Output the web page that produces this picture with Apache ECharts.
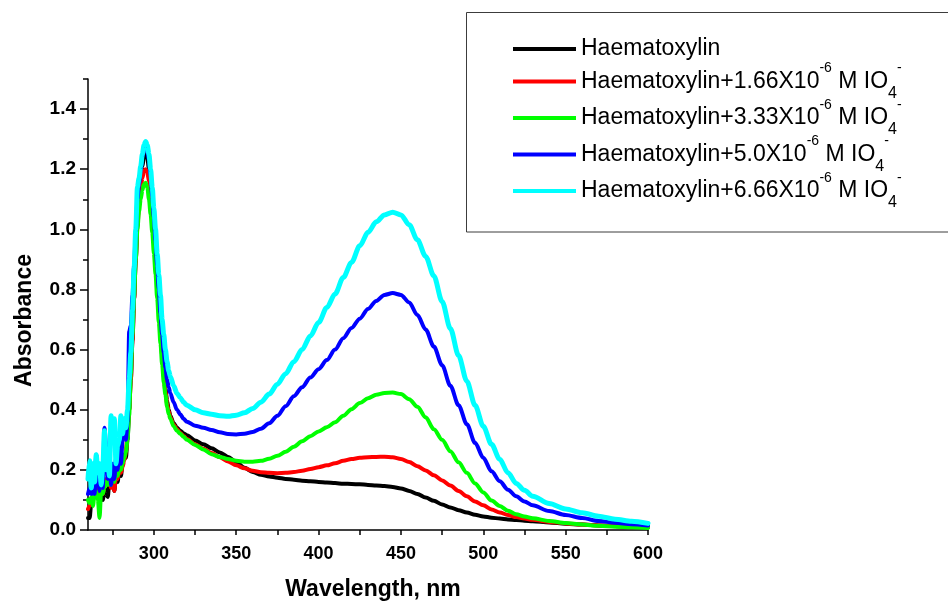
<!DOCTYPE html>
<html>
<head>
<meta charset="utf-8">
<script src="https://cdn.jsdelivr.net/npm/echarts@6/dist/echarts.min.js"></script>
<style>
html,body{margin:0;padding:0;background:#fff;}
#chart{width:948px;height:606px;}
</style>
</head>
<body>
<div id="chart"></div>
<script>
// Wavelength grid (nm)
const wavelength = [
  260,261,262,263,264,265,266,267,268,269,270,271,272,273,274,275,276,277,278,279,280,281,282,283,284,285,
  286,287,288,289,290,291,292,293,294,295,296,297,298,299,300,301,302,303,304,305,306,307,308,309,310,
  312,314,316,318,320,
  325,330,335,340,345,350,355,360,365,370,375,380,385,390,395,400,405,410,415,420,425,430,435,440,445,450,455,460,465,470,475,480,485,490,495,500,505,510,515,520,525,530,
  540,550,560,570,580,590,600
];

const seriesNames = [
  'Haematoxylin',
  'Haematoxylin+1.66X10-6 M IO4-',
  'Haematoxylin+3.33X10-6 M IO4-',
  'Haematoxylin+5.0X10-6 M IO4-',
  'Haematoxylin+6.66X10-6 M IO4-'
];
const seriesColors = ['#000000', '#ff0000', '#00ff00', '#0000ff', '#00ffff'];

const absBlack = [
  0.04,0.04,0.09,0.10,0.12,0.13,0.11,0.14,0.12,0.10,0.14,0.12,0.11,0.16,0.15,0.17,0.13,0.18,0.16,0.20,0.18,0.22,0.25,0.24,0.30,0.40,
  0.50,0.63,0.77,0.90,1.02,1.10,1.16,1.21,1.24,1.25,1.24,1.20,1.14,1.07,0.99,0.91,0.83,0.75,0.67,0.59,0.52,0.47,0.43,0.40,0.38,
  0.355,0.34,0.33,0.322,0.315,
  0.298,0.285,0.272,0.258,0.243,0.226,0.207,0.193,0.184,0.178,0.174,0.170,0.167,0.164,0.162,0.160,0.158,0.156,0.154,0.153,0.152,0.150,0.148,0.146,0.143,0.138,0.130,0.120,0.108,0.097,0.085,0.075,0.066,0.058,0.051,0.045,0.041,0.038,0.035,0.033,0.031,0.029,
  0.025,0.021,0.018,0.015,0.013,0.011,0.009
];
const absRed = [
  0.07,0.08,0.09,0.10,0.13,0.12,0.14,0.11,0.14,0.12,0.16,0.17,0.16,0.18,0.14,0.15,0.13,0.18,0.17,0.20,0.19,0.21,0.23,0.26,0.32,0.40,
  0.50,0.63,0.77,0.90,1.01,1.08,1.13,1.17,1.195,1.20,1.19,1.16,1.11,1.05,0.98,0.90,0.82,0.74,0.66,0.58,0.51,0.46,0.42,0.395,0.375,
  0.35,0.335,0.323,0.313,0.303,
  0.285,0.270,0.256,0.242,0.228,0.215,0.205,0.197,0.192,0.190,0.189,0.190,0.193,0.197,0.203,0.209,0.215,0.222,0.230,0.236,0.240,0.242,0.243,0.244,0.242,0.236,0.226,0.212,0.198,0.182,0.165,0.148,0.130,0.112,0.095,0.082,0.068,0.058,0.050,0.043,0.038,0.034,
  0.027,0.022,0.018,0.015,0.013,0.011,0.010
];
const absGreen = [
  0.10,0.09,0.11,0.08,0.12,0.13,0.10,0.04,0.13,0.12,0.14,0.16,0.15,0.19,0.15,0.18,0.16,0.19,0.18,0.20,0.20,0.22,0.24,0.26,0.30,0.38,
  0.52,0.65,0.78,0.90,1.00,1.06,1.10,1.13,1.15,1.155,1.14,1.10,1.05,0.99,0.92,0.85,0.77,0.69,0.62,0.55,0.49,0.45,0.41,0.385,0.37,
  0.345,0.33,0.32,0.31,0.30,
  0.283,0.268,0.252,0.243,0.236,0.230,0.227,0.227,0.230,0.237,0.247,0.260,0.277,0.295,0.312,0.328,0.342,0.358,0.380,0.402,0.422,0.438,0.450,0.456,0.457,0.452,0.435,0.410,0.375,0.335,0.300,0.262,0.225,0.190,0.155,0.125,0.098,0.080,0.064,0.052,0.045,0.039,
  0.030,0.023,0.018,0.014,0.011,0.009,0.007
];
const absBlue = [
  0.12,0.14,0.12,0.13,0.12,0.25,0.20,0.13,0.22,0.14,0.34,0.28,0.17,0.25,0.15,0.22,0.17,0.24,0.20,0.28,0.22,0.30,0.35,0.30,0.36,0.66,
  0.68,0.78,0.88,0.99,1.10,1.15,1.20,1.24,1.265,1.275,1.26,1.23,1.18,1.11,1.04,0.96,0.88,0.80,0.72,0.65,0.59,0.54,0.50,0.475,0.455,
  0.425,0.40,0.385,0.37,0.36,
  0.347,0.340,0.333,0.325,0.319,0.318,0.320,0.326,0.337,0.355,0.380,0.412,0.445,0.475,0.507,0.535,0.565,0.600,0.638,0.672,0.703,0.735,0.762,0.782,0.788,0.782,0.757,0.715,0.667,0.610,0.548,0.480,0.415,0.352,0.290,0.240,0.195,0.162,0.134,0.112,0.095,0.082,
  0.063,0.050,0.040,0.030,0.024,0.019,0.015
];
const absCyan = [
  0.17,0.23,0.14,0.22,0.16,0.25,0.19,0.22,0.15,0.21,0.33,0.20,0.26,0.18,0.38,0.29,0.37,0.22,0.28,0.30,0.38,0.32,0.37,0.34,0.40,0.50,
  0.59,0.73,0.87,1.00,1.14,1.17,1.21,1.25,1.28,1.292,1.28,1.25,1.20,1.14,1.07,1.00,0.92,0.85,0.78,0.70,0.65,0.60,0.56,0.53,0.51,
  0.48,0.455,0.44,0.425,0.415,
  0.400,0.390,0.385,0.380,0.378,0.382,0.390,0.404,0.425,0.452,0.485,0.520,0.560,0.600,0.645,0.690,0.740,0.785,0.840,0.890,0.945,0.990,1.025,1.048,1.057,1.048,1.015,0.965,0.910,0.845,0.760,0.670,0.580,0.495,0.415,0.345,0.285,0.235,0.190,0.155,0.132,0.112,
  0.088,0.070,0.057,0.046,0.036,0.029,0.022
];
const seriesValues = [absBlack, absRed, absGreen, absBlue, absCyan];
const lineWidths = [4, 4, 4, 4, 5];

// Tick values
const xLabelTicks = [300, 350, 400, 450, 500, 550, 600];
const xTicks = [275, 300, 325, 350, 375, 400, 425, 450, 475, 500, 525, 550, 575, 600];
const yMajorTicks = [0, 0.2, 0.4, 0.6, 0.8, 1.0, 1.2, 1.4];
const yMinorTicks = [0.1, 0.3, 0.5, 0.7, 0.9, 1.1, 1.3, 1.5];

const FONT = '"Liberation Sans", Arial, Helvetica, sans-serif';

function legendFormatter(name) {
  if (name === 'Haematoxylin') return '{t|Haematoxylin}';
  const base = name.split('X10')[0] + 'X10';
  return '{b|' + base + '}{sup|-6}{b| M IO}{sub|4}{sup|-}';
}

const chart = echarts.init(document.getElementById('chart'), null, {renderer: 'canvas'});
const option = {
  animation: false,
  backgroundColor: '#ffffff',
  grid: {left: 88, right: 300, top: 79, bottom: 74, containLabel: false},
  graphic: [{
    type: 'rect', z: 0,
    shape: {x: 466.5, y: 12.5, width: 520, height: 219.5},
    style: {fill: '#ffffff', stroke: '#3c3c3c', lineWidth: 1}
  }],
  legend: {
    orient: 'vertical', left: 513, top: 33, padding: 0, itemGap: -3.5,
    itemWidth: 63, itemHeight: 4, icon: 'rect', selectedMode: false, z: 5,
    data: seriesNames,
    formatter: legendFormatter,
    textStyle: {
      fontFamily: FONT, fontSize: 23, color: '#000',
      rich: {
        t: {fontFamily: FONT, fontSize: 23, height: 22, lineHeight: 32, padding: [5, 0, 5, 0], color: '#000'},
        b: {fontFamily: FONT, fontSize: 23, lineHeight: 40, color: '#000'},
        sup: {fontFamily: FONT, fontSize: 14, lineHeight: 28, verticalAlign: 'top', color: '#000'},
        sub: {fontFamily: FONT, fontSize: 16, lineHeight: 16, verticalAlign: 'bottom', color: '#000'}
      }
    }
  },
  xAxis: {
    type: 'value', min: 260, max: 600,
    name: 'Wavelength, nm', nameLocation: 'middle', nameGap: 48,
    nameTextStyle: {fontFamily: FONT, fontSize: 23, fontWeight: 'bold', color: '#000', padding: [0, 0, 0, 10]},
    axisLine: {show: true, onZero: false, lineStyle: {color: '#000', width: 1.5}},
    axisTick: {show: true, inside: false, length: 5, customValues: xTicks, lineStyle: {color: '#000', width: 1.5}},
    axisLabel: {show: true, customValues: xLabelTicks, margin: 15, fontFamily: FONT, fontSize: 18, fontWeight: 'bold', color: '#000'},
    splitLine: {show: false}
  },
  yAxis: [{
    type: 'value', min: 0, max: 1.5, position: 'left',
    name: 'Absorbance', nameLocation: 'middle', nameGap: 52,
    nameTextStyle: {fontFamily: FONT, fontSize: 23, fontWeight: 'bold', color: '#000', padding: [0, 32, 0, 0]},
    axisLine: {show: true, onZero: false, lineStyle: {color: '#000', width: 1.5}},
    axisTick: {show: true, inside: false, length: 8, customValues: yMajorTicks, lineStyle: {color: '#000', width: 1.5}},
    axisLabel: {show: true, customValues: yMajorTicks, margin: 12, fontFamily: FONT, fontSize: 19, fontWeight: 'bold', color: '#000',
      padding: [0, 0, 6, 0],
      formatter: v => Number(v).toFixed(1)},
    splitLine: {show: false}
  }, {
    type: 'value', min: 0, max: 1.5, position: 'left', offset: 0,
    axisLine: {show: false},
    axisTick: {show: true, inside: false, length: 5, customValues: yMinorTicks, lineStyle: {color: '#000', width: 1.5}},
    axisLabel: {show: false},
    splitLine: {show: false}
  }],
  series: seriesNames.map((name, k) => ({
    name: name,
    type: 'line',
    xAxisIndex: 0, yAxisIndex: 0,
    showSymbol: false, symbol: 'none',
    smooth: 0.3,
    smoothMonotone: 'x',
    clip: true,
    z: 2 + k,
    color: seriesColors[k],
    lineStyle: {color: seriesColors[k], width: lineWidths[k], join: 'round', cap: 'round'},
    data: wavelength.map((w, i) => [w, seriesValues[k][i]])
  }))
};
chart.setOption(option);
</script>
</body>
</html>
